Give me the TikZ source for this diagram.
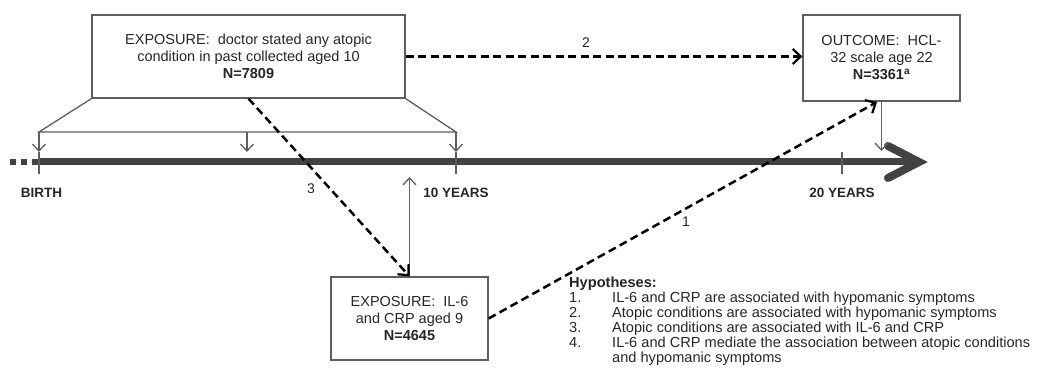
\documentclass[tikz,border=0pt]{standalone}
\usepackage{fontspec}
\setmainfont{Liberation Sans}
\usetikzlibrary{arrows.meta}
\definecolor{boxgray}{HTML}{5E5E5E}
\definecolor{txt}{HTML}{262626}
\definecolor{tlgray}{HTML}{424242}
\begin{document}
\begin{tikzpicture}[x=1pt,y=-1pt,
 box/.style={draw=boxgray, line width=1.3pt, fill=white, align=center, inner sep=0pt, text=txt, font=\fontsize{14.5}{17}\selectfont},
 dasharrow/.style={black, line width=2.5pt, dash pattern=on 8pt off 4.5pt, -{Straight Barb[length=8pt,width=15pt,line width=2.2pt]}},
 thinline/.style={draw=boxgray, line width=1.3pt},
 thinarrow/.style={thinline, -{Straight Barb[length=7pt,width=13pt,line width=1.3pt]}},
 lbl/.style={text=txt, font=\fontsize{14}{16}\selectfont, inner sep=0pt},
 tlabel/.style={text=txt, font=\bfseries\fontsize{13.5}{16}\selectfont, inner sep=0pt},
]
\useasboundingbox (0,0) rectangle (1037,387);

% boxes
\node[box, minimum width=313, minimum height=83] (expo) at (248.5,56.5)
  {EXPOSURE:\ \ doctor stated any atopic\\condition in past collected aged 10\\\textbf{N=7809}};
\node[box, minimum width=157, minimum height=86] (outc) at (881.5,58)
  {OUTCOME:\ \ HCL-\\32 scale age 22\\\textbf{N=3361\textsuperscript{a}}};
\node[box, minimum width=157, minimum height=83] (il6) at (409.5,318.5)
  {EXPOSURE:\ \ IL-6\\and CRP aged 9\\\textbf{N=4645}};

% timeline
\coordinate (tl0) at (39,162);
\coordinate (tlend) at (914,162);
\draw[tlgray, line width=7pt] (tl0) -- (tlend);
\draw[tlgray, line width=6pt, dash pattern=on 6pt off 5pt] (10,162) -- (38,162);
\draw[tlgray, line width=8pt, line cap=round, line join=miter] (888,146) -- (919,162) -- (888,178);

% ticks
\coordinate (t0) at (39,162);
\coordinate (t10) at (456,162);
\coordinate (t20) at (842,162);
\foreach \t in {t0,t10,t20}{
  \draw[thinline] ([yshift=-12pt]\t) -- ([yshift=10pt]\t);
}

% bracket
\coordinate (bl) at (39,132);
\coordinate (bm) at (247,132);
\coordinate (br) at (456,132);
\coordinate (blt) at (39,152);
\coordinate (bmt) at (247,152);
\coordinate (brt) at (456,152);
\draw[thinline] (expo.south west) -- (bl) -- (br) -- (expo.south east);
\draw[thinarrow] (bl) -- (blt);
\draw[thinarrow] (bm) -- (bmt);
\draw[thinarrow] (br) -- (brt);

% outcome down arrow
\coordinate (otip) at (881.5,151);
\draw[thinarrow] (outc.south) -- (otip);

% up arrow from IL-6 box
\coordinate (uptip) at (409.5,177);
\draw[thinarrow] (il6.north) -- (uptip);

% hypothesis arrows
\draw[dasharrow] (expo.east) -- (expo.east -| outc.west);
\draw[dasharrow] (expo.south) -- (il6.north);
\coordinate (a1end) at (877,102);
\draw[dasharrow] (il6.east) -- (a1end);

% arrow labels
\node[lbl] (l2) at (586,43) {2};
\node[lbl] (l3) at (311,189) {3};
\node[lbl] (l1) at (686,222) {1};

% timeline labels
\node[tlabel] (birth) at (41.5,193) {BIRTH};
\node[tlabel] (y10) at (456,193) {10 YEARS};
\node[tlabel] (y20) at (842,193) {20 YEARS};

% hypotheses
\node[anchor=north west, inner sep=0pt, text=txt, font=\fontsize{14.6}{14.3}\selectfont] (hyp) at (569,277) {%
\begin{tabular}{@{}p{43pt}@{}l@{}}
\multicolumn{2}{@{}l}{\textbf{Hypotheses:}}\\
1. & IL-6 and CRP are associated with hypomanic symptoms\\
2. & Atopic conditions are associated with hypomanic symptoms\\
3. & Atopic conditions are associated with IL-6 and CRP\\
4. & IL-6 and CRP mediate the association between atopic conditions\\
   & and hypomanic symptoms
\end{tabular}};
\end{tikzpicture}
\end{document}
